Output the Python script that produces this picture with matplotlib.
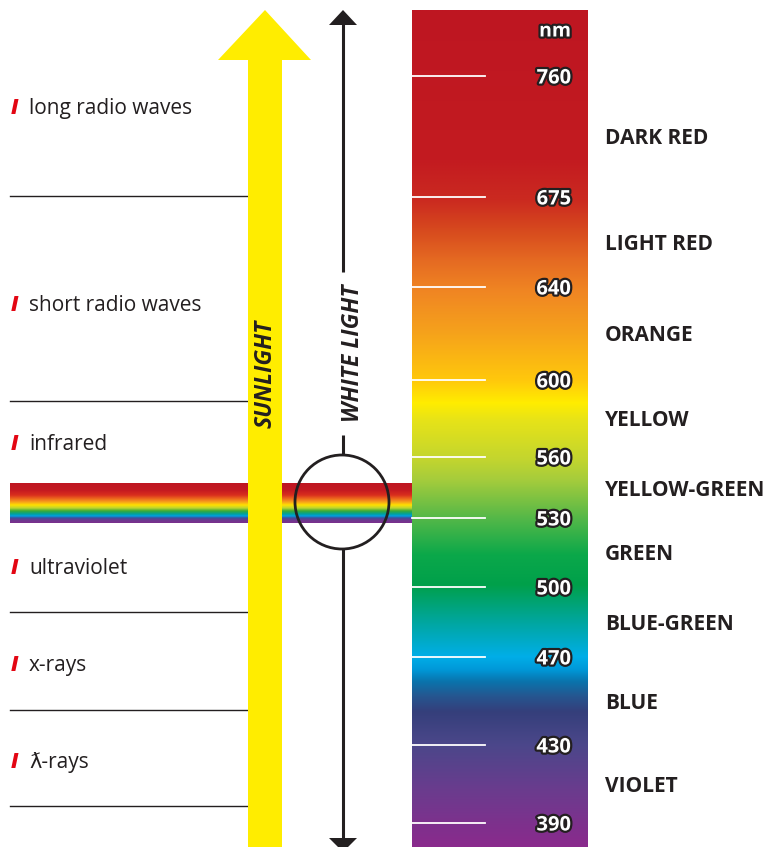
"""Visible light spectrum diagram: sunlight / white light and the colour bands."""

import matplotlib.patheffects as pe
import matplotlib.pyplot as plt
import numpy as np
from matplotlib.colors import to_rgb
from matplotlib.patches import Circle, Polygon, Rectangle

plt.rcParams["font.family"] = ["Open Sans", "DejaVu Sans"]

# ---------------------------------------------------------------------------
# Data
# ---------------------------------------------------------------------------

radiation = ["long radio waves", "short radio waves", "infrared",
             "ultraviolet", "x-rays", "\u019b-rays"]
radiation_y = [106, 303, 442, 566, 663, 760]
divider_y = [196, 401, 612, 710, 806]

wavelengths = [760, 675, 640, 600, 560, 530, 500, 470, 430, 390]
tick_y = [76, 197, 287, 380, 457, 518, 587, 657, 745, 823]

color_names = ["DARK RED", "LIGHT RED", "ORANGE", "YELLOW", "YELLOW-GREEN",
               "GREEN", "BLUE-GREEN", "BLUE", "VIOLET"]
color_name_y = [136, 242, 333, 418, 488, 552, 622, 701, 784]

# vertical spectrum gradient (position, colour)
bar_stop_y = [10, 160, 200, 230, 260, 290, 330, 380, 403, 420, 460, 480,
              518, 555, 585, 620, 657, 670, 682, 697, 712, 745, 790, 847]
bar_stop_c = ["#BE1622", "#C31B20", "#CB2A20", "#D74A1E", "#E56A22", "#F08523",
              "#F5A01C", "#FFC80C", "#FFED00", "#E7E318", "#C2D52F", "#A5CC3C",
              "#55B848", "#0BA84A", "#00A04A", "#00A69A", "#00AEE8", "#0098D8",
              "#0A73AC", "#26558F", "#353F7B", "#4B478A", "#6A3C8E", "#8A2A8C"]

# horizontal rainbow band (position, colour)
band_stop_y = [483, 490, 495, 499, 502, 505, 508, 511, 514, 516, 518, 520, 523]
band_stop_c = ["#BE1622", "#C41A21", "#D92E1D", "#EE6E1D", "#F7A21B", "#FFE100",
               "#BED530", "#3AAA35", "#00A19A", "#00A0E3", "#3E4F9A", "#6A3A8F",
               "#7B2F8D"]

INK = "#231F20"
RED = "#E30613"
YELLOW = "#FFED00"


def gradient(stop_y, stop_c, y0, y1, n=600):
    ys = np.linspace(y0, y1, n)
    rgb = np.array([to_rgb(c) for c in stop_c])
    img = np.stack([np.interp(ys, stop_y, rgb[:, k]) for k in range(3)], axis=-1)
    return img[:, None, :]


fig = plt.figure(figsize=(7.69, 8.47), dpi=100)
ax = fig.add_axes([0, 0, 1, 1])

# --- spectrum bar ---
ax.imshow(gradient(bar_stop_y, bar_stop_c, 10, 847), extent=(412, 588, 847, 10),
          aspect="auto", interpolation="bilinear", zorder=1)
outline = [pe.withStroke(linewidth=3.2, foreground=INK)]
ax.text(571, 29, "nm", ha="right", va="center_baseline", fontsize=14, fontweight="bold",
        color="white", path_effects=outline, zorder=3)
for wl, y in zip(wavelengths, tick_y):
    ax.plot([412, 485], [y, y], color="white", lw=1.3, zorder=2)
    ax.text(571, y, str(wl), ha="right", va="center_baseline", fontsize=14.5,
            fontweight="bold", color="white", path_effects=outline, zorder=3)

for name, y in zip(color_names, color_name_y):
    ax.text(605, y, name, ha="left", va="center_baseline", fontsize=15,
            fontweight="bold", color=INK)

# --- rainbow band through the prism circle ---
ax.imshow(gradient(band_stop_y, band_stop_c, 483, 523, 200), extent=(10, 412, 523, 483),
          aspect="auto", interpolation="bilinear", zorder=1)

# --- left labels ---
for label, y in zip(radiation, radiation_y):
    ax.text(14, y, "I", ha="center", va="center_baseline", fontsize=15,
            fontweight="heavy", style="italic", color=RED)
    ax.text(29, y, label, ha="left", va="center_baseline", fontsize=15, color=INK)
for y in divider_y:
    ax.plot([10, 247], [y, y], color=INK, lw=1.0, zorder=2)

# --- sunlight arrow ---
ax.add_patch(Rectangle((248, 58), 34, 847 - 58, color=YELLOW, lw=0, zorder=4))
ax.add_patch(Polygon([(218, 60), (311, 60), (265, 10)], closed=True,
                     color=YELLOW, lw=0, zorder=4))
ax.text(266, 374, "SUNLIGHT", rotation=90, ha="center", va="center",
        fontsize=16.5, fontweight="bold", style="italic", color=INK, zorder=5)

# --- white light arrow ---
cx, cy, r = 342, 502, 47
ax.plot([343, 343], [22, 272], color=INK, lw=2.2, solid_capstyle="butt", zorder=4)
ax.plot([343, 343], [435, cy - r], color=INK, lw=2.2, solid_capstyle="butt", zorder=4)
ax.plot([343, 343], [cy + r, 840], color=INK, lw=2.2, solid_capstyle="butt", zorder=4)
ax.add_patch(Polygon([(329, 25), (357, 25), (343, 10)], closed=True,
                     color=INK, lw=0, zorder=4))
ax.add_patch(Polygon([(329, 838), (357, 838), (343, 852)], closed=True,
                     color=INK, lw=0, zorder=4))
ax.add_patch(Circle((cx, cy), r, fill=False, edgecolor=INK, lw=2.0, zorder=4))
ax.text(353, 353, "WHITE LIGHT", rotation=90, ha="center", va="center",
        fontsize=16.5, fontweight="bold", style="italic", color=INK, zorder=5)

ax.set_xlim(0, 769)
ax.set_ylim(847, 0)
ax.axis("off")

fig.savefig("out.png", dpi=100, facecolor="white")
